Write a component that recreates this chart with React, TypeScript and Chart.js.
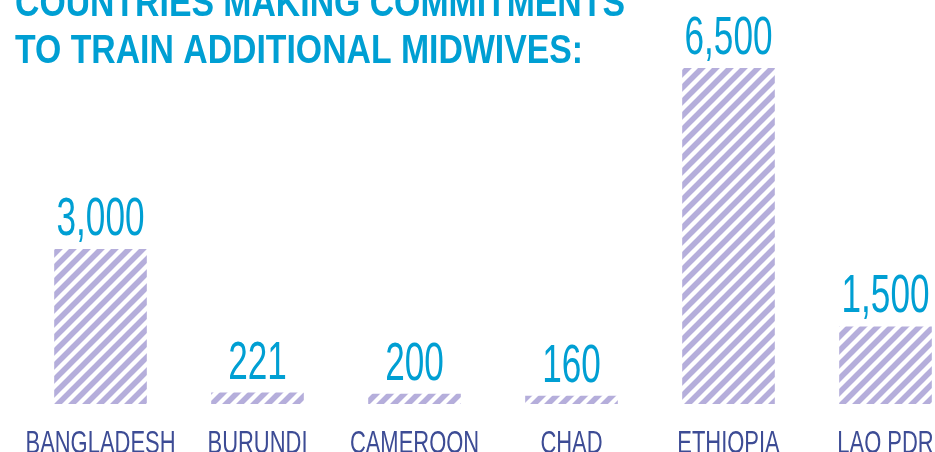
import React, { useEffect, useRef } from 'react';
import { Chart, registerables } from 'chart.js';

Chart.register(...registerables);

const categories = ['BANGLADESH', 'BURUNDI', 'CAMEROON', 'CHAD', 'ETHIOPIA', 'LAO PDR'];
const midwives = [3000, 221, 200, 160, 6500, 1500];
const titleLines = ['COUNTRIES MAKING COMMITMENTS', 'TO TRAIN ADDITIONAL MIDWIVES:'];

const CYAN = '#009fd3';
const LABEL_BLUE = '#3d4c95';
const STRIPE = '#b5aedb';
const NARROW = "'Liberation Sans Narrow', 'Liberation Sans', 'DejaVu Sans Condensed', sans-serif";

function makePattern(): CanvasPattern | string {
  const p = 14;
  const c = document.createElement('canvas');
  c.width = p;
  c.height = p;
  const g = c.getContext('2d');
  if (!g) return STRIPE;
  g.fillStyle = '#ffffff';
  g.fillRect(0, 0, p, p);
  g.strokeStyle = STRIPE;
  g.lineWidth = 5.6;
  g.lineCap = 'square';
  g.beginPath();
  for (const k of [-1, 0, 1]) {
    g.moveTo(k * p, p);
    g.lineTo(k * p + p, 0);
  }
  g.stroke();
  const pat = g.createPattern(c, 'repeat');
  return pat || STRIPE;
}

const textPlugin = {
  id: 'textPlugin',
  afterDatasetsDraw(chart: any) {
    const ctx: CanvasRenderingContext2D = chart.ctx;
    const meta = chart.getDatasetMeta(0);
    const xScale = chart.scales.x;

    // Title (top line partially cut off by canvas edge)
    ctx.save();
    ctx.font = `bold 41px ${NARROW}`;
    ctx.fillStyle = CYAN;
    ctx.textAlign = 'left';
    ctx.textBaseline = 'alphabetic';
    const tW = ctx.measureText(titleLines[1]).width;
    const tS = 568 / tW;
    const titleBase = [16, 63];
    titleLines.forEach((line, i) => {
      ctx.save();
      ctx.translate(15, titleBase[i]);
      ctx.scale(tS, 1);
      ctx.fillText(line, 0, 0);
      ctx.restore();
    });
    ctx.restore();

    // Value labels
    ctx.save();
    ctx.font = `54px ${NARROW}`;
    ctx.fillStyle = CYAN;
    ctx.textAlign = 'center';
    ctx.textBaseline = 'alphabetic';
    const vS = 88 / ctx.measureText('3,000').width;
    meta.data.forEach((bar: any, i: number) => {
      const txt = midwives[i].toLocaleString('en-US');
      ctx.save();
      ctx.translate(bar.x, bar.y - 14);
      ctx.scale(vS, 1);
      ctx.fillText(txt, 0, 0);
      ctx.restore();
    });
    ctx.restore();

    // Category labels
    ctx.save();
    ctx.font = `31px ${NARROW}`;
    ctx.fillStyle = LABEL_BLUE;
    ctx.textAlign = 'center';
    ctx.textBaseline = 'alphabetic';
    const cS = 150 / ctx.measureText('BANGLADESH').width;
    categories.forEach((cat, i) => {
      const x = xScale.getPixelForValue(i);
      ctx.save();
      ctx.translate(x, 453);
      ctx.scale(cS, 1);
      ctx.fillText(cat, 0, 0);
      ctx.restore();
    });
    ctx.restore();
  },
};

export default function App() {
  const ref = useRef<HTMLCanvasElement | null>(null);

  useEffect(() => {
    if (!ref.current) return;
    const chart = new Chart(ref.current, {
      type: 'bar',
      data: {
        labels: categories,
        datasets: [
          {
            data: midwives,
            backgroundColor: makePattern() as any,
            borderWidth: 0,
            barPercentage: 0.59,
            categoryPercentage: 1,
          },
        ],
      },
      options: {
        responsive: false,
        animation: false,
        layout: { padding: { left: 22, right: 0, top: 68, bottom: 48 } },
        plugins: {
          legend: { display: false },
          title: { display: false },
          tooltip: { enabled: false },
        },
        scales: {
          x: { display: false, offset: true, grid: { display: false } },
          y: { display: false, min: 0, max: 6500, grid: { display: false } },
        },
      },
      plugins: [textPlugin],
    });
    return () => chart.destroy();
  }, []);

  return (
    <div
      style={{
        position: 'fixed',
        left: 0,
        top: 0,
        width: 935,
        height: 452,
        overflow: 'hidden',
        background: '#ffffff',
      }}
    >
      <canvas ref={ref} width={964} height={452} style={{ display: 'block', width: 964, height: 452 }} />
    </div>
  );
}
